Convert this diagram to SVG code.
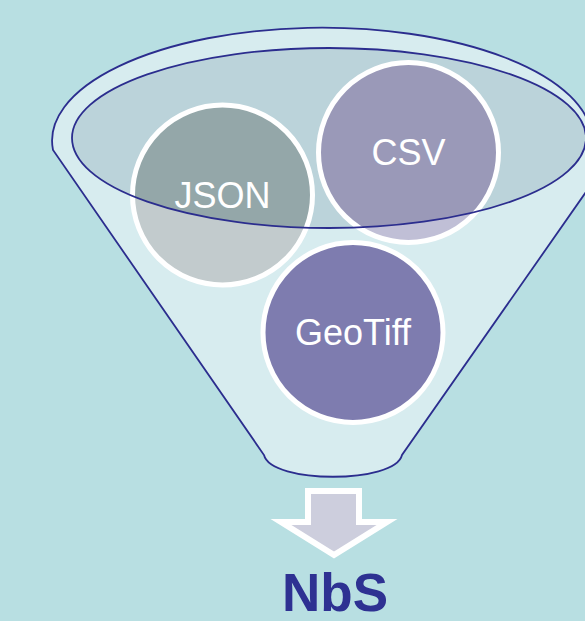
<svg xmlns="http://www.w3.org/2000/svg" width="585" height="621" viewBox="0 0 585 621">
  <defs>
    <style>
      .rim { fill: #d7ecef; stroke: #2b2d8e; stroke-width: 1.8; }
      .mouth { fill: #bbd3da; }
      .mouth-line { fill: none; stroke: #2b2d8e; stroke-width: 1.8; }
      .ring { fill: none; stroke: #ffffff; stroke-width: 5; }
      .label { font-family: "Liberation Sans", Arial, sans-serif; font-size: 36px; fill: #ffffff; text-anchor: middle; }
      .title { font-family: "Liberation Sans", Arial, sans-serif; font-size: 53px; font-weight: bold; fill: #2e3192; text-anchor: middle; }
    </style>
    <clipPath id="mouth-clip">
      <ellipse cx="329" cy="138" rx="257" ry="90"/>
    </clipPath>
  </defs>

  <!-- backdrop -->
  <rect width="585" height="621" fill="#b8dfe2"/>

  <!-- funnel body -->
  <path class="rim" d="M 53,150 A 270,113 0 1 1 592,138 L 600,172 L 402,455 C 395,484 271,484 264,455 Z"/>
  <ellipse class="mouth" cx="329" cy="138" rx="257" ry="90"/>

  <!-- data format nodes -->
  <g id="json">
    <circle cx="222.5" cy="195" r="90" fill="#c2cbcd"/>
    <circle cx="222.5" cy="195" r="90" fill="#94a7a9" clip-path="url(#mouth-clip)"/>
    <circle class="ring" cx="222.5" cy="195" r="90"/>
    <text class="label" x="222.5" y="208">JSON</text>
  </g>

  <g id="csv">
    <circle cx="408.5" cy="152.5" r="90" fill="#c0bfd6"/>
    <circle cx="408.5" cy="152.5" r="90" fill="#9a99b8" clip-path="url(#mouth-clip)"/>
    <circle class="ring" cx="408.5" cy="152.5" r="90"/>
    <text class="label" x="408.5" y="165">CSV</text>
  </g>

  <g id="geotiff">
    <circle cx="353" cy="332.5" r="90" fill="#7e7caf"/>
    <circle class="ring" cx="353" cy="332.5" r="90"/>
    <text class="label" x="353" y="345">GeoTiff</text>
  </g>

  <!-- rim of the funnel mouth, over the nodes -->
  <ellipse class="mouth-line" cx="329" cy="138" rx="257" ry="90"/>

  <!-- output arrow -->
  <g id="connectors">
    <path d="M 308,491 L 359,491 L 359,522 L 387,522 L 334,555 L 281,522 L 308,522 Z" fill="#cdcedd" stroke="#ffffff" stroke-width="6" stroke-linejoin="miter"/>
  </g>

  <g id="nbs">
    <text class="title" x="335" y="611">NbS</text>
  </g>
</svg>
